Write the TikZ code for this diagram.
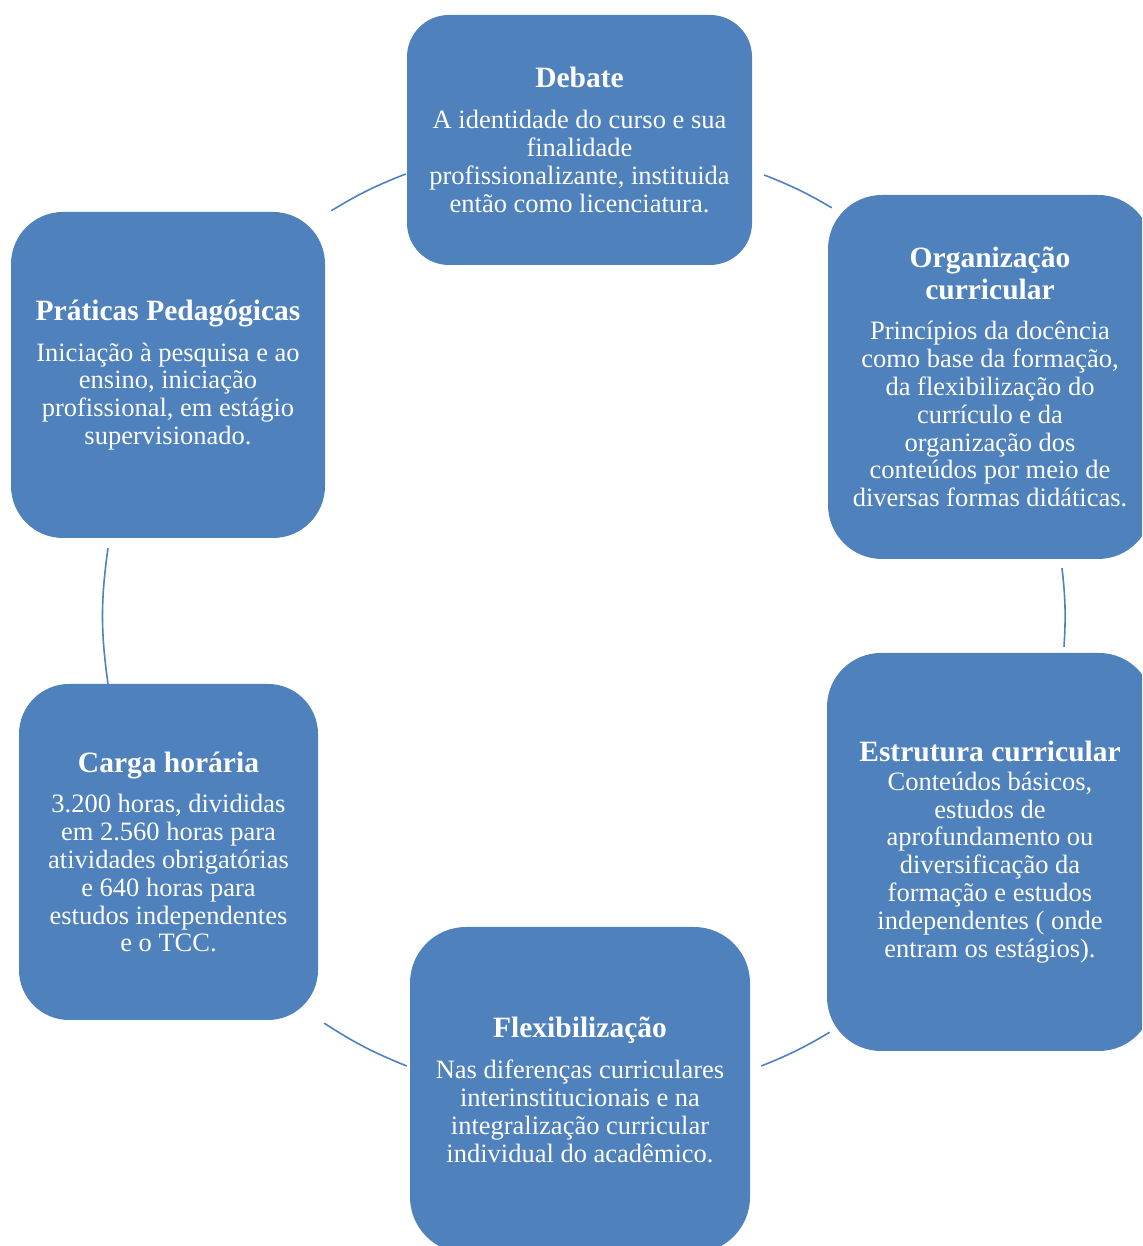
\documentclass[tikz,border=0pt]{standalone}
\usepackage{fontspec}
\setmainfont{Liberation Serif}
\definecolor{azul}{HTML}{4F81BD}
\newcommand{\ttl}{\fontsize{29.5}{30}\selectfont\bfseries}

\begin{document}
\begin{tikzpicture}[x=1pt,y=1pt,
	box/.style={fill=azul, text=white, align=center, inner sep=0pt, font=\fontsize{26.5}{27.8}\selectfont},
	link/.style={draw=azul, line width=1.6pt}]
	\useasboundingbox (0,0) rectangle (1142,1246);
	\clip (0,0) rectangle (1142,1246);

	\node[box, minimum width=345, minimum height=250, rounded corners=42] (deb) at (579.5,1106)
		{{\ttl Debate}\\[13pt]A identidade do curso e sua\\finalidade\\profissionalizante, instituida\\então como licenciatura.};
	\node[box, minimum width=324, minimum height=364, rounded corners=54] (org) at (990,869)
		{{\ttl Organização}\\[4pt]{\ttl curricular}\\[13pt]Princípios da docência\\como base da formação,\\da flexibilização do\\currículo e da\\organização dos\\conteúdos por meio de\\diversas formas didáticas.};
	\node[box, minimum width=326, minimum height=398, rounded corners=54] (estr) at (990,394)
		{{\ttl Estrutura curricular}\\[1pt]Conteúdos básicos,\\estudos de\\aprofundamento ou\\diversificação da\\formação e estudos\\independentes ( onde\\entram os estágios).};
	\node[box, minimum width=340, minimum height=326, rounded corners=56] (flex) at (580,156)
		{{\ttl Flexibilização}\\[13pt]Nas diferenças curriculares\\interinstitucionais e na\\integralização curricular\\individual do acadêmico.};
	\node[box, minimum width=299, minimum height=336, rounded corners=50] (carga) at (168.5,394)
		{{\ttl Carga horária}\\[13pt]3.200 horas, divididas\\em 2.560 horas para\\atividades obrigatórias\\e 640 horas para\\estudos independentes\\e o TCC.};
	\node[box, minimum width=314, minimum height=326, rounded corners=52] (prat) at (168,871)
		{{\ttl Práticas Pedagógicas}\\[13pt]Iniciação à pesquisa e ao\\ensino, iniciação\\profissional, em estágio\\supervisionado.};

	% ciclo
	\draw[link] ([shift={(6,1)}]prat.north east) to[bend left=5] ([shift={(-1,-34)}]deb.west);
	\draw[link] ([shift={(12,-35)}]deb.east) to[bend left=4.5] ([shift={(4,-13)}]org.north west);
	\draw[link] ([shift={(72,-9)}]org.south) to[bend left=5] ([shift={(74,6)}]estr.north);
	\draw[link] ([shift={(3,19)}]estr.south west) to[bend left=4.5] ([shift={(11,24)}]flex.east);
	\draw[link] ([shift={(-3,24)}]flex.west) to[bend left=5.5] ([shift={(6,-3)}]carga.south east);
	\draw[link] ([shift={(-60.5,0)}]carga.north) to[bend left=8] ([shift={(-60,-10)}]prat.south);
\end{tikzpicture}
\end{document}
